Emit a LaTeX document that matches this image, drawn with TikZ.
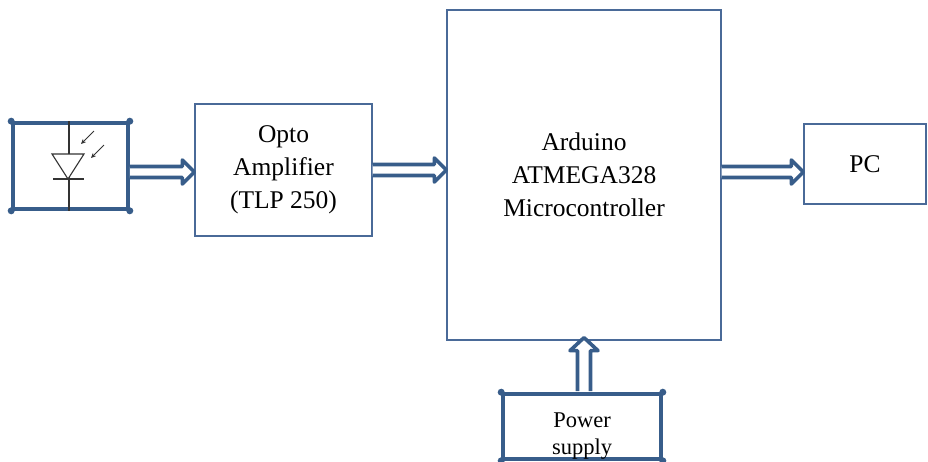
\documentclass[tikz,border=0pt]{standalone}
\usepackage{fontspec}
\setmainfont{Liberation Serif}
\usetikzlibrary{arrows.meta,calc}
\definecolor{bord}{HTML}{385D8A}
\definecolor{thinb}{HTML}{4A6A98}
\newcommand\harrow[2]{%
  \draw[blk] ($(#1)+(0,-5.5)$) -- ($(#2)+(-12,-5.5)$) -- ($(#2)+(-12,-12)$) -- (#2)
    -- ($(#2)+(-12,12)$) -- ($(#2)+(-12,5.5)$) -- ($(#1)+(0,5.5)$);}
\newcommand\varrow[2]{%
  \draw[blk] ($(#1)+(-6.5,0)$) -- ($(#2)+(-6.5,13)$) -- ($(#2)+(-14,13)$) -- (#2)
    -- ($(#2)+(14,13)$) -- ($(#2)+(6.5,13)$) -- ($(#1)+(6.5,0)$);}
\begin{document}
\begin{tikzpicture}[x=1pt,y=-1pt,
  thinbox/.style={draw=thinb,line width=1.3pt,rectangle,inner sep=0pt,align=center,
    font=\fontsize{25.5}{33}\selectfont},
  thickbox/.style={draw=bord,line width=3.6pt,rectangle,inner sep=0pt},
  blk/.style={draw=bord,fill=white,line width=3.6pt,line join=round},
  cdot/.style={circle,fill=bord,inner sep=0pt,minimum size=7pt},
  diode/.style={draw=black!80,line width=1.1pt}]
\useasboundingbox (0,0) rectangle (928,461);
% boxes
\node[thickbox,minimum width=115pt,minimum height=86pt] (sensor) at (70.5,166) {};
\node[thinbox,minimum width=177pt,minimum height=132pt] (opto) at (283.5,170) {Opto\\Amplifier\\(TLP 250)};
\node[thinbox,minimum width=274pt,minimum height=330pt] (ard) at (584,175) {Arduino\\ATMEGA328\\ Microcontroller};
\node[thinbox,minimum width=122pt,minimum height=80pt] (pc) at (865,164) {PC};
\node[thickbox,minimum width=158pt,minimum height=65pt] (power) at (582,426.5) {};
\node[font=\fontsize{22.5}{27}\selectfont,align=center,inner sep=0pt] (pstext) at (582,436) {Power\\supply};
% corner dots
\foreach \n in {sensor,power}{
  \foreach \a in {north west,north east,south west,south east}{
    \node[cdot] at (\n.\a) {};
  }
}
% diode symbol
\draw[diode] ($(sensor.north)+(-1.5,0)$) -- ($(sensor.south)+(-1.5,0)$);
\draw[diode,fill=white] (52,154) -- (84,154) -- (68,179) -- cycle;
\draw[diode] (53,179) -- (84,179);
\draw[diode,line width=0.9pt,-{Stealth[length=5pt,width=4.5pt]}] (94,131) -- (81,144);
\draw[diode,line width=0.9pt,-{Stealth[length=5pt,width=4.5pt]}] (104,145) -- (91,158);
% connectors
\coordinate (s1) at (sensor.east |- 0,172);
\coordinate (o1) at (opto.west |- 0,172);
\coordinate (o2) at (opto.east);
\coordinate (a1) at (ard.west |- opto.east);
\coordinate (pcin) at ($(pc.west)+(0,8)$);
\coordinate (a2) at (ard.east |- pcin);
\coordinate (p1) at ($(ard.south |- power.north)+(0,-1)$);
\coordinate (a3) at ($(ard.south)+(0,-3)$);
\harrow{s1}{o1}
\harrow{o2}{a1}
\harrow{a2}{pcin}
\varrow{p1}{a3}
\end{tikzpicture}
\end{document}
